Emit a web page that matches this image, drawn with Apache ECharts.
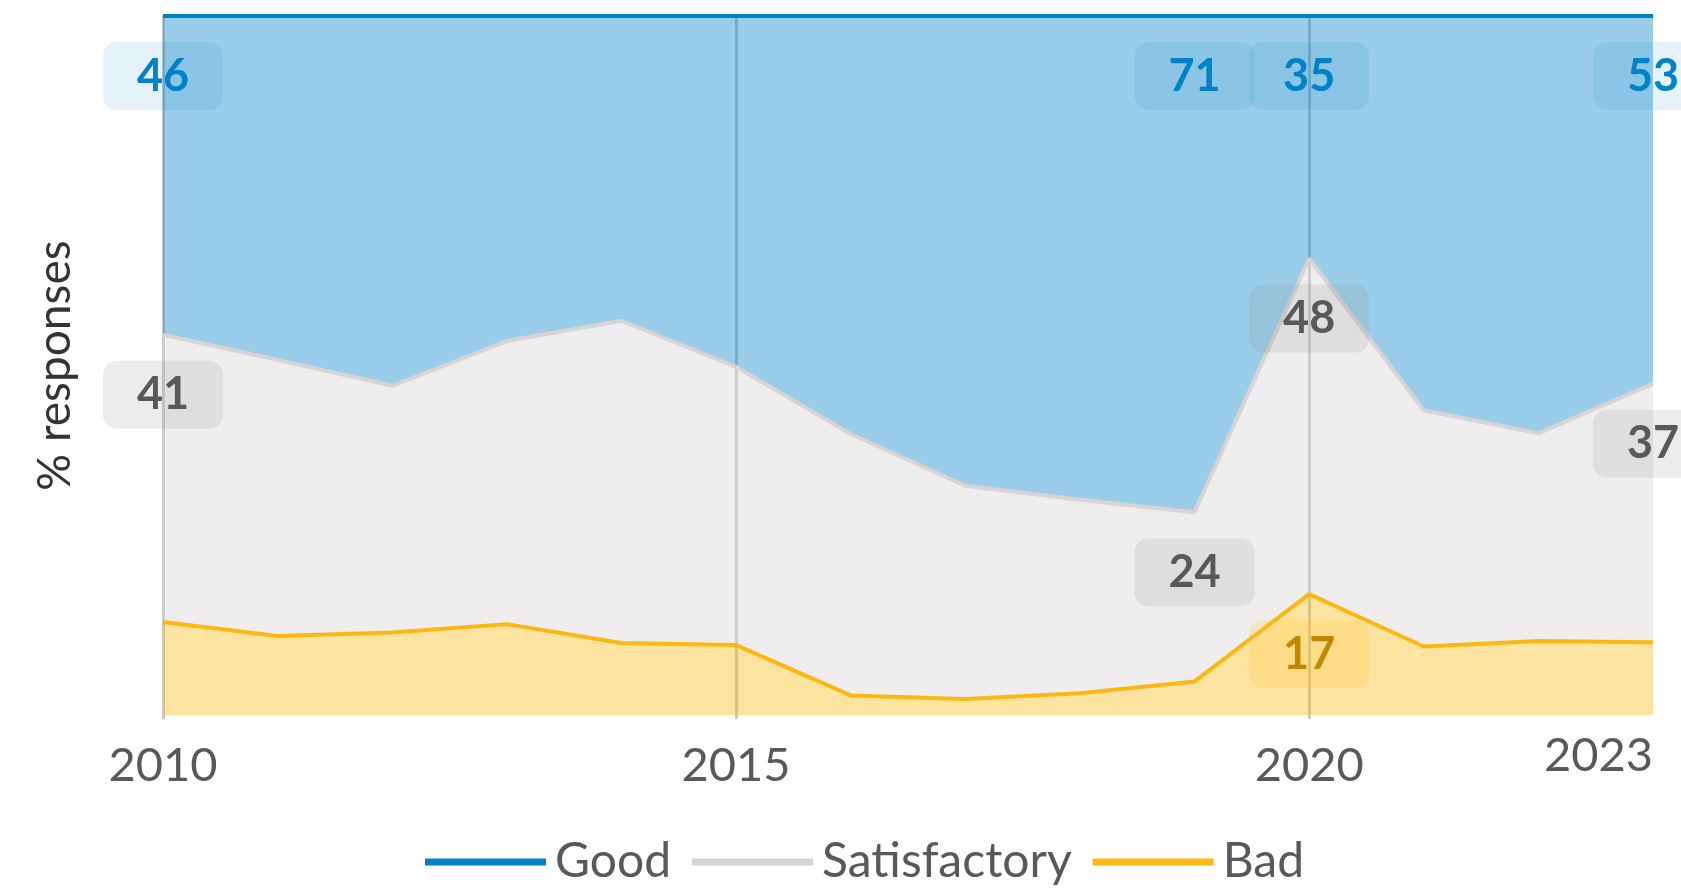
<!DOCTYPE html>
<html>
<head>
<meta charset="utf-8">
<title>% responses</title>
<script src="https://cdn.jsdelivr.net/npm/echarts@6/dist/echarts.min.js"></script>
<style>
  html, body { margin: 0; padding: 0; background: #fff; }
  #chart { width: 1681px; height: 889px; }
</style>
</head>
<body>
<div id="chart"></div>
<script>
const years = ['2010', '2011', '2012', '2013', '2014', '2015', '2016', '2017', '2018', '2019', '2020', '2021', '2022', '2023']
const good = [45.6, 49.2, 52.9, 46.5, 43.6, 50.2, 59.8, 67.2, 69.2, 71.0, 34.7, 56.4, 59.7, 52.6]
const satisfactory = [41.1, 39.5, 35.3, 40.5, 46.1, 39.8, 37.4, 30.5, 27.7, 24.2, 48.0, 33.8, 29.7, 37.0]
const bad = [13.3, 11.3, 11.8, 13.0, 10.3, 10.0, 2.8, 2.3, 3.1, 4.8, 17.3, 9.8, 10.6, 10.4]
const labelledGood = [0, 9, 10, 13]
const labelledSat = [0, 9, 10, 13]
const labelledBad = [10]
const tickYears = [0, 5, 10, 13]

const font = 'Lato, "Liberation Sans", sans-serif'

function makeLabel(textColor, bg) {
  return {
    show: true,
    position: 'bottom',
    distance: 26,
    formatter: (p) => Math.round(p.value),
    color: textColor,
    fontFamily: font,
    fontWeight: 'bold',
    fontSize: 45,
    lineHeight: 46,
    width: 120,
    align: 'center',
    padding: [11, 0],
    backgroundColor: bg,
    borderRadius: 14,
  }
}

function withLabels(values, shown, label) {
  return values.map((v, i) => {
    if (shown.includes(i)) {
      return { value: v, label: label }
    }
    return { value: v, label: { show: false } }
  })
}

function getSeries() {
  const list = [
    { name: 'Bad', data: bad, color: '#fbb812', shown: labelledBad, label: makeLabel('#c08a00', 'rgba(253,196,40,0.2)') },
    { name: 'Satisfactory', data: satisfactory, color: '#d8d3d4', shown: labelledSat, label: makeLabel('#595959', 'rgba(128,128,128,0.15)') },
    { name: 'Good', data: good, color: '#0082c8', shown: labelledGood, label: makeLabel('#0082c8', 'rgba(0,130,200,0.1)') },
  ]
  return list.map((item) => ({
    name: item.name,
    type: 'line',
    stack: 'total',
    symbol: 'circle',
    symbolSize: 0,
    showSymbol: true,
    lineStyle: { color: item.color, width: 4 },
    itemStyle: { color: item.color },
    areaStyle: { color: item.color, opacity: 0.4 },
    label: { show: false },
    labelLayout: { hideOverlap: false },
    data: withLabels(item.data, item.shown, item.label),
    z: 2,
  }))
}

let myChart = echarts.init(document.getElementById('chart'))
let option = {
  animation: false,
  legend: {
    top: 833,
    left: 420,
    data: ['Good', 'Satisfactory', 'Bad'],
    icon: 'rect',
    itemWidth: 121,
    itemHeight: 7,
    itemGap: 21,
    textStyle: {
      color: '#595959',
      fontFamily: font,
      fontSize: 48,
      padding: [0, 0, 0, 4],
    },
  },
  grid: {
    left: 163,
    right: 28,
    top: 16,
    bottom: 174,
  },
  xAxis: {
    type: 'category',
    boundaryGap: false,
    data: years,
    axisLine: { show: false },
    axisTick: {
      show: true,
      length: 4,
      interval: (i) => tickYears.includes(i) && i < 13,
      lineStyle: { color: '#c8c8c8', width: 3 },
    },
    splitLine: {
      show: true,
      interval: (i) => tickYears.includes(i) && i < 13,
      lineStyle: { color: '#c8c8c8', width: 3 },
    },
    axisLabel: {
      interval: (i) => tickYears.includes(i),
      alignMaxLabel: 'right',
      margin: 17,
      color: '#595959',
      fontFamily: font,
      fontSize: 47,
      formatter: (v, i) => (i === 13 ? v : '{lo|' + v + '}'),
      rich: {
        lo: {
          color: '#595959',
          fontFamily: font,
          fontSize: 47,
          padding: [10, 0, 0, 0],
        },
      },
    },
  },
  yAxis: {
    type: 'value',
    min: 0,
    max: 100,
    name: '% responses',
    nameLocation: 'middle',
    nameGap: 85,
    nameTextStyle: {
      color: '#333',
      fontFamily: font,
      fontSize: 46,
    },
    axisLine: { show: false },
    axisTick: { show: false },
    axisLabel: { show: false },
    splitLine: { show: false },
  },
  series: getSeries(),
}
myChart.setOption(option)
window.addEventListener('resize', () => {
  myChart.resize()
})
</script>
</body>
</html>
